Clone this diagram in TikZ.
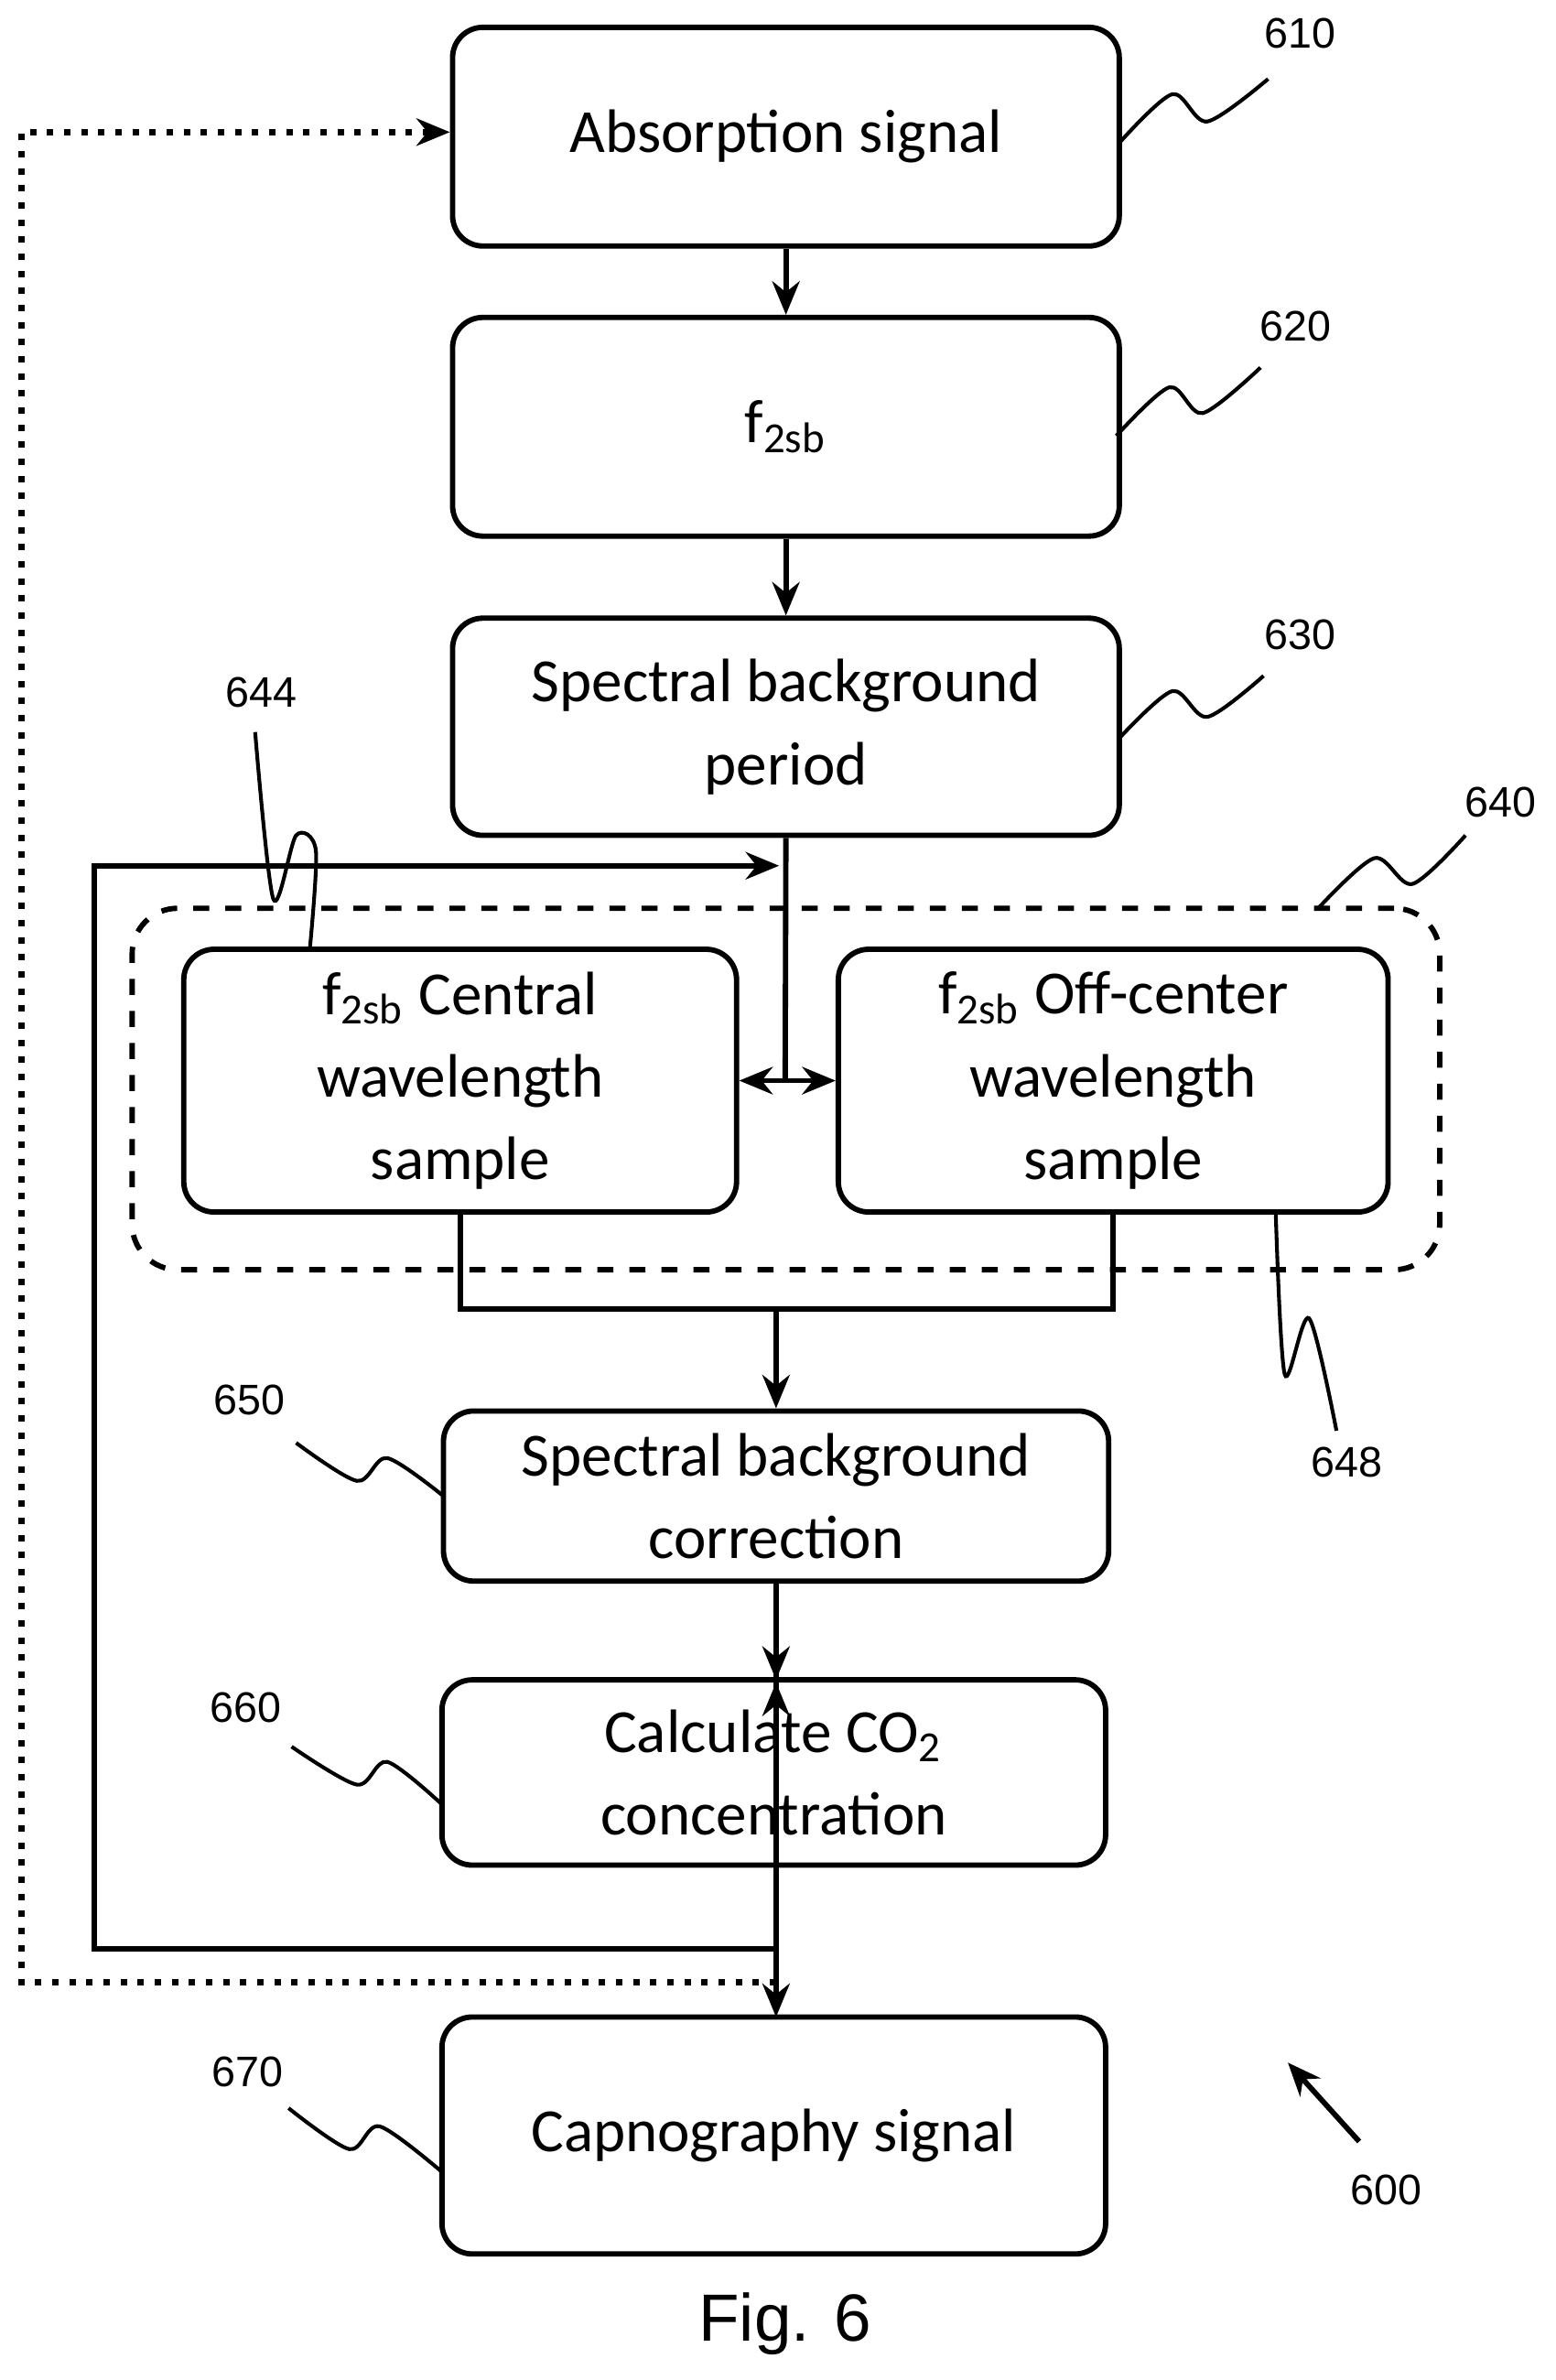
\documentclass[tikz,border=0pt]{standalone}
\usepackage{fontspec}
\setmainfont{Carlito}
\newfontfamily\lab{Liberation Sans}
\usetikzlibrary{arrows.meta}
\begin{document}
\begin{tikzpicture}[x=0.1mm,y=-0.1mm,line width=1pt,
 box/.style={draw,rounded corners=2mm,align=center,font=\fontsize{11.5}{15.5}\selectfont,inner sep=0pt},
 lbl/.style={font=\lab\fontsize{8}{9}\selectfont},
 arr/.style={-{Stealth[length=2.2mm,width=1.8mm]}},
 sq/.style={line width=0.7pt}]
\useasboundingbox (0,0) rectangle (1024,1567);
\node[draw,dashed,rounded corners=3mm,minimum width=86.1mm,minimum height=23.8mm] (grp) at (517.5,717) {};
\node[box,minimum width=43.9mm,minimum height=14.4mm] (b610) at (517.5,90) {Absorption signal};
\node[box,minimum width=43.9mm,minimum height=14.4mm] (b620) at (517.5,281) {f\textsubscript{2sb}};
\node[box,minimum width=43.9mm,minimum height=14.3mm] (b630) at (517.5,478.5) {Spectral background\\period};
\node[box,minimum width=36.4mm,minimum height=17.3mm] (cen) at (303,711.5) {f\textsubscript{2sb} Central\\wavelength\\sample};
\node[box,minimum width=36.2mm,minimum height=17.3mm] (off) at (733,711.5) {f\textsubscript{2sb} Off-center\\wavelength\\sample};
\node[box,minimum width=43.8mm,minimum height=11.2mm] (b650) at (511,985) {Spectral background\\correction};
\node[box,minimum width=43.7mm,minimum height=12.2mm] (b660) at (509.5,1167) {Calculate CO\textsubscript{2}\\concentration};
\node[box,minimum width=43.7mm,minimum height=15.6mm] (b670) at (509.5,1406) {Capnography signal};
% connectors
\draw[arr] (b610.south) -- (b620.north);
\draw[arr] (b620.south) -- (b630.north);
\coordinate (j) at (517,711.5);
\draw (b630.south) -- (j);
\draw[{Stealth[length=2.2mm,width=1.8mm]}-{Stealth[length=2.2mm,width=1.8mm]}] (cen.east) -- (off.west);
\coordinate (m) at (511,862);
\draw (cen.south) -- (303,862) -- (733,862) -- (off.south);
\draw[arr] (m) -- (b650.north);
\draw[arr] (b650.south-|m) -- (b660.south-|m) ++(0,-122) ;
\draw[arr] (511,1041) -- (511,1106);
\draw[arr] (511,1228) -- (511,1328);
\coordinate (fb) at (511,1283);
\coordinate (fe) at (513,570);
\draw[arr] (fb) -- (62,1283) -- (62,570) -- (fe);
\coordinate (db) at (511,1305);
\draw[arr,dotted,line width=1.2pt] (db) -- (14,1305) -- (14,87) -- (b610.west|-0,87);
% squiggles and labels
\draw[sq] plot[smooth] coordinates{(738,93)(772,62)(795,80)(835,52)};
\node[lbl] (l610) at (856,22) {610};
\draw[sq] plot[smooth] coordinates{(735,287)(770,255)(792,272)(830,242)};
\node[lbl] (l620) at (853,215) {620};
\draw[sq] plot[smooth] coordinates{(738,485)(772,455)(795,472)(832,445)};
\node[lbl] (l630) at (856,418) {630};
\draw[sq] plot[smooth] coordinates{(868,598)(905,565)(930,582)(965,550)};
\node[lbl] (l640) at (988,528) {640};
\draw[sq] plot[smooth] coordinates{(204,625)(208,560)(195,550)(180,592)(168,482)};
\node[lbl] (l644) at (172,456) {644};
\draw[sq] plot[smooth] coordinates{(840,798)(846,905)(862,868)(880,942)};
\node[lbl] (l648) at (887,963) {648};
\draw[sq] plot[smooth] coordinates{(292,985)(255,960)(235,975)(195,950)};
\node[lbl] (l650) at (164,922) {650};
\draw[sq] plot[smooth] coordinates{(291,1188)(255,1160)(235,1175)(192,1150)};
\node[lbl] (l660) at (162,1124) {660};
\draw[sq] plot[smooth] coordinates{(291,1430)(250,1400)(230,1415)(190,1388)};
\node[lbl] (l670) at (163,1364) {670};
\coordinate (a600) at (895,1410);
\draw[arr] (a600) -- (848,1358);
\node[lbl] (l600) at (913,1442) {600};
\node[font=\lab\fontsize{12.5}{14}\selectfont] (fig) at (517,1530) {Fig. 6};
\end{tikzpicture}
\end{document}
